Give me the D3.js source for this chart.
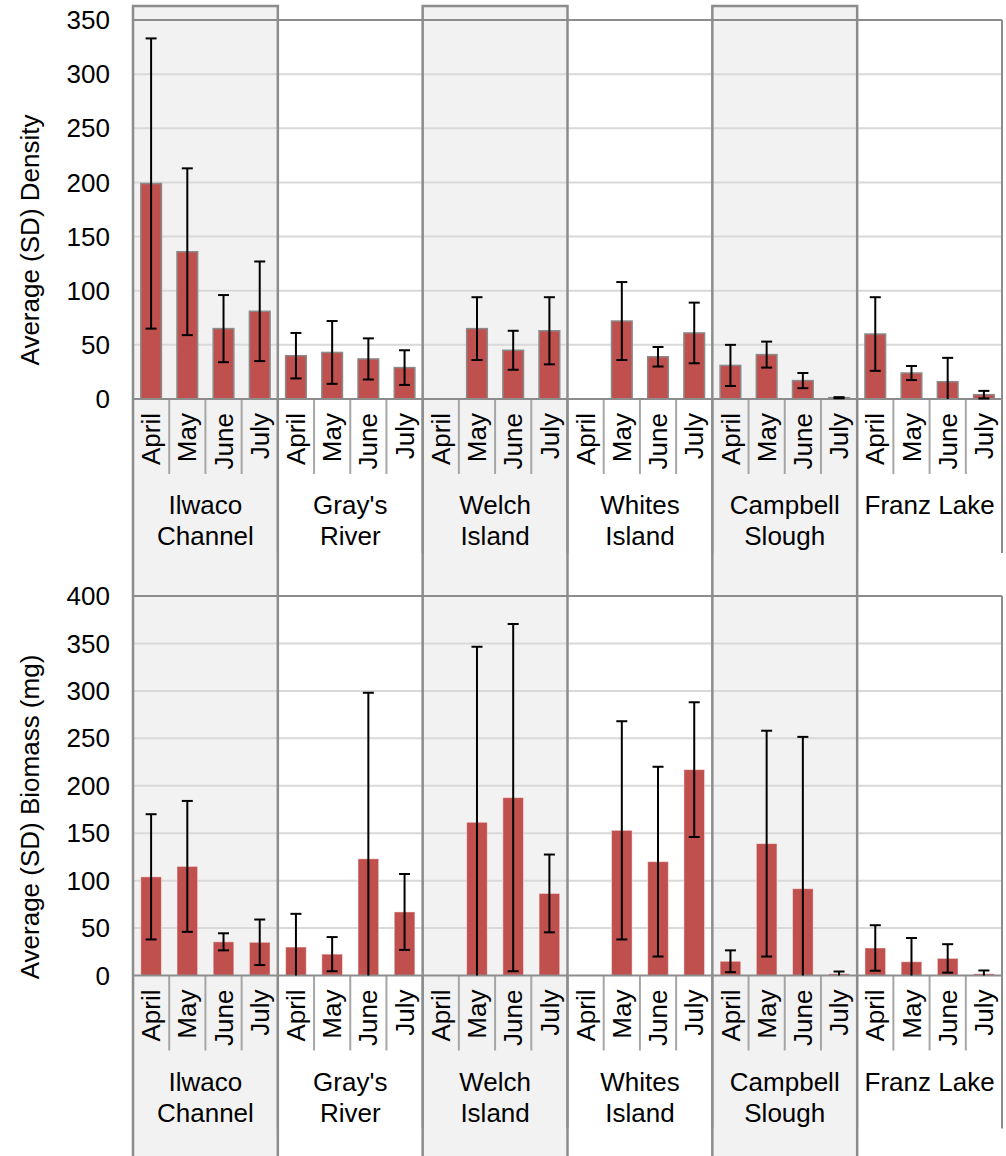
<!DOCTYPE html>
<html>
<head>
<meta charset="utf-8">
<script src="https://cdn.jsdelivr.net/npm/d3@7"></script>
<style>
  html, body { margin: 0; padding: 0; background: #fff; }
  svg { display: block; font-family: Arial, "Liberation Sans", sans-serif; }
</style>
</head>
<body>
<svg id="chart" width="1006" height="1156"></svg>
<script>
// sites along the category axis, two-level labels
var sites = ["Ilwaco Channel", "Gray's River", "Welch Island", "Whites Island", "Campbell Slough", "Franz Lake"];
var siteLines = [["Ilwaco", "Channel"], ["Gray's", "River"], ["Welch", "Island"], ["Whites", "Island"], ["Campbell", "Slough"], ["Franz Lake"]];
var shadedSites = ["Ilwaco Channel", "Welch Island", "Campbell Slough"];
var months = ["April", "May", "June", "July"];

// one value per site x month (null = no sample)
var densityMean = [
  199, 136, 65, 81,
  40, 43, 37, 29,
  null, 65, 45, 63,
  null, 72, 39, 61,
  31, 41, 17, 1.2,
  60, 24, 16, 4
];
var densitySD = [
  134, 77, 31, 46,
  21, 29, 19, 16,
  null, 29, 18, 31,
  null, 36, 9, 28,
  19, 12, 7, 0.5,
  34, 6.5, 22, 3.5
];
var biomassMean = [
  104, 115, 35.5, 35,
  30, 22.5, 123, 67,
  null, 161.5, 187.5, 86.5,
  null, 153, 120, 217,
  15, 139, 91.5, 1.8,
  29, 14.5, 18, 1.8
];
var biomassSD = [
  66, 69, 9, 24,
  35, 18, 175, 40,
  null, 185, 183, 41,
  null, 115, 100, 71,
  11.5, 119, 160, 2.4,
  24, 25, 15, 3.5
];
var densityTicks = [0, 50, 100, 150, 200, 250, 300, 350];
var biomassTicks = [0, 50, 100, 150, 200, 250, 300, 350, 400];

var BAR = '#C0504D', BORDER = '#8c8c8c', GRID = '#d9d9d9', SHADE = '#f2f2f2';
var FONT = 26;

var svg = d3.select('#chart');
var left = 133, right = 1002;

var xSite = d3.scaleBand().domain(sites).range([left, right]);
var xMonth = d3.scaleBand().domain(months).range([0, xSite.bandwidth()])
  .paddingInner(0.43).paddingOuter(0.215);
var step = xSite.bandwidth() / months.length;

function rows(means, sds) {
  var out = [];
  sites.forEach(function (s, i) {
    months.forEach(function (m, j) {
      var k = i * months.length + j;
      if (means[k] == null) return;
      out.push({ site: s, month: m, v: means[k], sd: sds[k] });
    });
  });
  return out;
}

// shaded site columns (fill only, outlines go on top later)
var shadeG = svg.append('g');
shadeG.selectAll('rect').data(shadedSites).join('rect')
  .attr('x', function (d) { return xSite(d); })
  .attr('y', 6)
  .attr('width', xSite.bandwidth())
  .attr('height', 1200)
  .attr('fill', SHADE);

function panel(opt) {
  var y = d3.scaleLinear().domain([0, opt.max]).range([opt.zero, opt.top]);
  var g = svg.append('g');

  // gridlines
  g.selectAll('.grid').data(opt.ticks.slice(1, -1)).join('line')
    .attr('x1', left).attr('x2', right)
    .attr('y1', function (d) { return y(d); }).attr('y2', function (d) { return y(d); })
    .attr('stroke', GRID).attr('stroke-width', 2);

  // plot area top + right border
  g.append('line').attr('x1', left).attr('x2', right)
    .attr('y1', y(opt.max)).attr('y2', y(opt.max))
    .attr('stroke', BORDER).attr('stroke-width', 2);
  g.append('line').attr('x1', right).attr('x2', right)
    .attr('y1', y(opt.max)).attr('y2', opt.zero + opt.siteDrop)
    .attr('stroke', BORDER).attr('stroke-width', 2);

  // y axis tick labels
  g.selectAll('.tl').data(opt.ticks).join('text')
    .attr('x', 110).attr('y', function (d) { return y(d); })
    .attr('dy', '0.35em')
    .attr('text-anchor', 'end')
    .attr('font-size', FONT)
    .attr('fill', '#000')
    .text(function (d) { return d; });

  // y axis title
  g.append('text')
    .attr('transform', 'translate(39,' + opt.titleY + ') rotate(-90)')
    .attr('text-anchor', 'middle')
    .attr('font-size', FONT)
    .text(opt.title);

  // month dividers below the axis
  var divs = [];
  sites.forEach(function (s) {
    for (var j = 1; j < months.length; j++) divs.push(xSite(s) + j * step);
  });
  g.selectAll('.md').data(divs).join('line')
    .attr('x1', function (d) { return d; }).attr('x2', function (d) { return d; })
    .attr('y1', opt.zero).attr('y2', opt.zero + 75)
    .attr('stroke', '#a6a6a6').attr('stroke-width', 2);

  // site dividers
  g.selectAll('.sd').data(sites.slice(1)).join('line')
    .attr('x1', function (d) { return xSite(d); }).attr('x2', function (d) { return xSite(d); })
    .attr('y1', opt.zero).attr('y2', opt.zero + opt.siteDrop)
    .attr('stroke', BORDER).attr('stroke-width', 2);

  // bars
  var data = rows(opt.means, opt.sds);
  g.selectAll('.bar').data(data).join('rect')
    .attr('x', function (d) { return xSite(d.site) + xMonth(d.month); })
    .attr('y', function (d) { return y(d.v); })
    .attr('width', xMonth.bandwidth())
    .attr('height', function (d) { return y(0) - y(d.v); })
    .attr('fill', BAR)
    .attr('stroke', opt.barStroke)
    .attr('stroke-width', opt.barStrokeW);

  // x axis line
  g.append('line').attr('x1', left).attr('x2', right)
    .attr('y1', opt.zero).attr('y2', opt.zero)
    .attr('stroke', BORDER).attr('stroke-width', 2);

  // error bars (clipped at the axis like the original)
  var eb = g.selectAll('.eb').data(data).join('g')
    .attr('transform', function (d) {
      return 'translate(' + (xSite(d.site) + xMonth(d.month) + xMonth.bandwidth() / 2) + ',0)';
    });
  eb.append('line')
    .attr('y1', function (d) { return y(d.v + d.sd); })
    .attr('y2', function (d) { return y(Math.max(0, d.v - d.sd)); })
    .attr('stroke', '#000').attr('stroke-width', 2);
  eb.append('line')
    .attr('x1', -5.5).attr('x2', 5.5)
    .attr('y1', function (d) { return y(d.v + d.sd); })
    .attr('y2', function (d) { return y(d.v + d.sd); })
    .attr('stroke', '#000').attr('stroke-width', 2);
  eb.filter(function (d) { return d.v - d.sd > 0; }).append('line')
    .attr('x1', -5.5).attr('x2', 5.5)
    .attr('y1', function (d) { return y(d.v - d.sd); })
    .attr('y2', function (d) { return y(d.v - d.sd); })
    .attr('stroke', '#000').attr('stroke-width', 2);

  // month labels
  var ml = [];
  sites.forEach(function (s) { months.forEach(function (m) { ml.push({ site: s, month: m }); }); });
  g.selectAll('.ml').data(ml).join('text')
    .attr('transform', function (d) {
      var cx = xSite(d.site) + xMonth(d.month) + xMonth.bandwidth() / 2;
      return 'translate(' + cx + ',' + (opt.zero + 14) + ') rotate(-90)';
    })
    .attr('dy', '0.35em')
    .attr('text-anchor', 'end')
    .attr('font-size', FONT)
    .text(function (d) { return d.month; });

  // site labels
  var sl = g.selectAll('.sl').data(sites).join('text')
    .attr('text-anchor', 'middle')
    .attr('font-size', FONT);
  sl.selectAll('tspan').data(function (d, i) { return siteLines[i].map(function (t) { return { t: t, s: d }; }); })
    .join('tspan')
    .attr('x', function (d) { return xSite(d.s) + xSite.bandwidth() / 2; })
    .attr('y', function (d, k) { return opt.zero + 115 + k * 31; })
    .text(function (d) { return d.t; });
}

panel({
  max: 350, zero: 399, top: 20, ticks: densityTicks,
  means: densityMean, sds: densitySD,
  title: 'Average (SD) Density', titleY: 240,
  siteDrop: 154, barStroke: '#8a8a8a', barStrokeW: 1.5
});
panel({
  max: 400, zero: 975.5, top: 596, ticks: biomassTicks,
  means: biomassMean, sds: biomassSD,
  title: 'Average (SD) Biomass (mg)', titleY: 817,
  siteDrop: 153, barStroke: 'rgba(255,255,255,0.45)', barStrokeW: 1
});

// outlines of the shaded columns, on top of everything
svg.append('g').selectAll('rect').data(shadedSites).join('rect')
  .attr('x', function (d) { return xSite(d); })
  .attr('y', 6)
  .attr('width', xSite.bandwidth())
  .attr('height', 1200)
  .attr('fill', 'none')
  .attr('stroke', BORDER)
  .attr('stroke-width', 2.5);
</script>
</body>
</html>
